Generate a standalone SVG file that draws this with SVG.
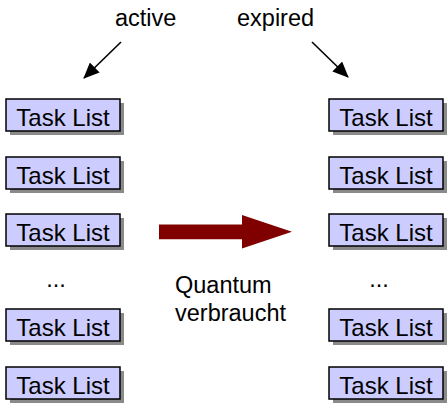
<svg xmlns="http://www.w3.org/2000/svg" width="447" height="405" viewBox="0 0 447 405">
<style>
text { font-family: "Liberation Sans", Arial, sans-serif; font-size: 23.5px; fill: #000; }
.tl { font-size: 24px; }
.box { fill: #ccccff; stroke: #000; stroke-width: 1.5; }
.shadow { fill: #8a8a8a; }
.lbl { text-anchor: middle; }
.conn { stroke: #000; stroke-width: 1.6; fill: none; }
</style>
<defs>
<marker id="ah" markerWidth="16" markerHeight="14" refX="15" refY="7" orient="auto" markerUnits="userSpaceOnUse">
<path d="M0,0 L16,7 L0,14 z" fill="#000"/>
</marker>
<g id="tl">
<rect class="shadow" x="4" y="4" width="114" height="32"/>
<rect class="box" x="0" y="0" width="114" height="32"/>
<text class="lbl tl" x="57" y="27">Task List</text>
</g>
</defs>
<rect width="447" height="405" fill="#fff"/>
<g id="label-active"><text x="115" y="26">active</text></g>
<g id="label-expired"><text x="237" y="26">expired</text></g>
<g id="active-1"><use href="#tl" x="6" y="99"/></g>
<g id="active-2"><use href="#tl" x="6" y="157"/></g>
<g id="active-3"><use href="#tl" x="6" y="214"/></g>
<g id="active-dots"><text class="lbl" x="56" y="287">...</text></g>
<g id="active-4"><use href="#tl" x="6" y="309"/></g>
<g id="active-5"><use href="#tl" x="6" y="367"/></g>
<g id="expired-1"><use href="#tl" x="329" y="99"/></g>
<g id="expired-2"><use href="#tl" x="329" y="157"/></g>
<g id="expired-3"><use href="#tl" x="329" y="214"/></g>
<g id="expired-dots"><text class="lbl" x="379" y="287">...</text></g>
<g id="expired-4"><use href="#tl" x="329" y="309"/></g>
<g id="expired-5"><use href="#tl" x="329" y="367"/></g>
<g id="label-quantum"><text x="175" y="293">Quantum</text><text x="175" y="321">verbraucht</text></g>
<g id="connectors">
<line class="conn" x1="121" y1="42" x2="84" y2="78" marker-end="url(#ah)"/>
<line class="conn" x1="312" y1="42" x2="348" y2="77" marker-end="url(#ah)"/>
<path d="M159,224.5 L242,224.5 L242,215 L292,231.7 L242,248.5 L242,239.3 L159,239.3 z" fill="#800000"/>
</g>
</svg>
